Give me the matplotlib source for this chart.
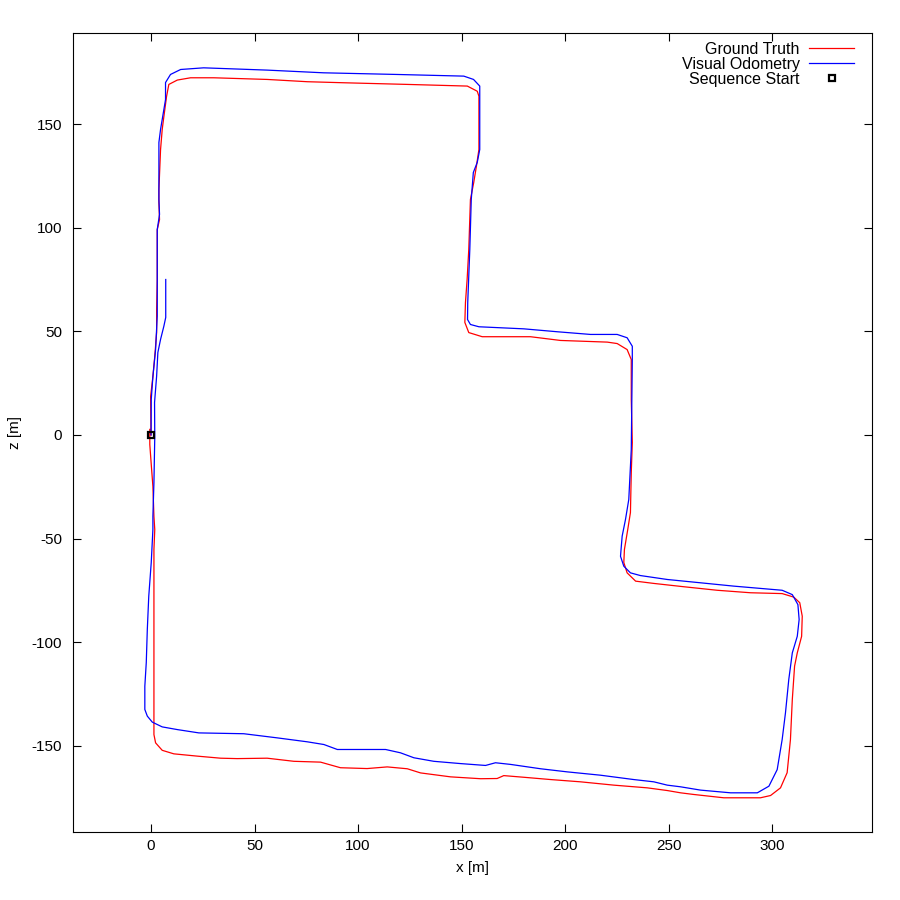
import numpy as np
import matplotlib
matplotlib.use("Agg")
import matplotlib.pyplot as plt

plt.rcParams['font.family'] = ['Liberation Sans', 'DejaVu Sans']
plt.rcParams['axes.unicode_minus'] = False

# ground truth path (x, z) in metres
gt_x = [0.0, -0.2, 0.9, 1.8, 2.7, 2.7, 3.0, 3.0, 3.0, 4.1, 3.8, 3.8, 4.6, 5.4, 6.2, 7.5, 8.6,
        12.7, 19.1, 30.3, 56.1, 75.5, 93.1, 123.8, 152.8, 157.6, 158.4, 158.4, 157.2, 155.9,
        154.3, 153.5, 152.7, 151.9, 151.6, 153.5, 160.0, 183.3, 197.8, 220.4, 225.2, 230.0,
        232.0, 232.0, 232.5, 232.0, 231.6, 230.3, 228.7, 228.4, 230.0, 234.1, 242.9, 257.4,
        273.5, 289.6, 304.9, 310.5, 313.4, 314.6, 314.3, 312.2, 310.9, 309.8, 308.9, 307.3,
        304.1, 299.3, 294.4, 276.7, 262.2, 255.8, 249.4, 239.7, 223.6, 207.5, 193.0, 180.1,
        170.4, 167.2, 159.2, 144.7, 130.2, 123.8, 114.1, 104.4, 91.5, 81.9, 69.0, 56.1, 41.6,
        33.6, 22.3, 11.0, 5.4, 2.2, 1.4, 1.4, 1.8, 1.4, 0.9, 0.1, -0.6, -0.6]
gt_z = [0.0, 18.6, 28.2, 37.9, 49.4, 60.5, 75.0, 86.1, 99.1, 103.9, 112.2, 118.4, 137.7, 147.4,
        153.6, 163.3, 169.1, 171.2, 172.3, 172.3, 171.5, 170.4, 169.9, 169.1, 168.3, 165.8,
        163.4, 137.7, 129.7, 121.8, 113.6, 89.5, 75.0, 63.9, 54.3, 49.4, 47.4, 47.4, 45.6,
        44.8, 44.1, 41.2, 36.4, 17.1, -3.6, -18.1, -37.4, -45.6, -55.2, -61.5, -66.5, -70.5,
        -71.6, -73.2, -74.9, -76.1, -76.5, -78.2, -80.9, -87.4, -97.1, -105.1, -111.5, -127.6,
        -146.9, -162.9, -170.2, -173.9, -175.0, -175.0, -173.4, -172.6, -171.5, -170.2,
        -168.9, -167.3, -166.2, -165.1, -164.3, -165.7, -165.8, -164.9, -163.0, -161.0,
        -160.1, -160.9, -160.5, -157.8, -157.4, -155.9, -156.1, -155.9, -154.9, -153.8,
        -152.1, -148.5, -144.5, -55.2, -45.6, -39.3, -24.8, -14.2, -4.6, 2.7]

# visual odometry path (x, z) in metres
vo_x = [0.0, 0.1, 0.9, 2.2, 3.0, 3.0, 3.0, 4.1, 3.8, 3.8, 4.6, 7.0, 7.0, 9.4, 14.3, 25.4, 56.1,
        83.3, 118.9, 151.1, 155.8, 158.8, 158.8, 157.6, 155.7, 154.7, 154.0, 153.0, 152.9,
        154.3, 158.4, 180.1, 196.2, 212.3, 225.2, 230.0, 232.5, 232.5, 232.0, 231.6, 230.8,
        229.2, 227.6, 226.8, 228.4, 231.6, 236.4, 249.4, 265.5, 281.5, 304.9, 309.8, 312.5,
        313.1, 312.2, 309.8, 308.1, 306.5, 304.9, 302.5, 298.5, 292.9, 280.0, 265.5, 255.8,
        249.4, 242.9, 233.2, 217.1, 201.1, 188.2, 173.7, 166.4, 161.6, 149.5, 136.6, 127.0,
        120.5, 113.3, 90.0, 83.5, 75.5, 61.0, 44.8, 23.1, 12.7, 5.4, 0.6, -1.8, -3.0, -3.0,
        -2.3, -1.8, -1.1, 0.1, 0.9, 0.9, 1.4, 1.8, 1.7, 2.7, 3.3, 4.6, 6.2, 7.1, 7.1]
vo_z = [0.0, 17.1, 28.2, 41.2, 57.3, 89.5, 99.1, 106.4, 113.6, 141.1, 147.4, 161.8, 170.0,
        173.9, 176.3, 177.1, 176.0, 174.7, 173.9, 173.1, 171.5, 168.3, 137.7, 131.5, 126.6,
        113.6, 89.5, 63.9, 55.7, 53.3, 52.2, 51.2, 49.8, 48.5, 48.5, 46.9, 42.8, 36.4, -7.0,
        -15.1, -31.1, -40.8, -48.8, -58.5, -63.3, -66.5, -67.8, -69.7, -71.3, -72.9, -74.9,
        -77.0, -81.8, -89.0, -97.1, -105.1, -117.9, -134.0, -146.9, -161.4, -169.4, -172.6,
        -172.6, -171.3, -169.7, -168.9, -167.3, -166.2, -164.1, -162.5, -161.0, -158.9,
        -158.1, -159.4, -158.5, -157.4, -155.7, -153.3, -151.7, -151.7, -149.3, -148.0,
        -146.1, -144.1, -143.7, -142.1, -140.8, -138.5, -135.6, -132.4, -121.2, -109.7,
        -93.8, -77.8, -61.5, -45.6, -39.2, -22.9, -1.2, 15.7, 28.4, 39.8, 46.1, 52.5, 56.7,
        75.0]

start_x = [0.0]
start_z = [0.0]

fig = plt.figure(figsize=(9, 9), dpi=100)
ax = fig.add_axes([73/900, 68/900, 799/900, 799/900])

ax.plot(gt_x, gt_z, color='#ff0000', lw=0.9, label='Ground Truth')
ax.plot(vo_x, vo_z, color='#0000ff', lw=0.9, label='Visual Odometry')
ax.plot(start_x, start_z, ls='none', marker='s', ms=5, mfc='none', mec='black', mew=1.6,
        label='Sequence Start')

ax.set_xlim(-37.7, 348.3)
ax.set_ylim(-191.5, 193.9)
ax.set_xticks(np.arange(0, 301, 50))
ax.set_yticks(np.arange(-150, 151, 50))
ax.tick_params(direction='in', length=6, width=0.8, top=True, right=True, labelsize=11)
ax.tick_params(axis='y', pad=8)
ax.tick_params(axis='x', pad=5)
for s in ax.spines.values():
    s.set_linewidth(0.8)

ax.set_xlabel('x [m]', fontsize=11, labelpad=6)
ax.set_ylabel('z [m]', fontsize=11, labelpad=7)

ax.legend(loc='upper right', bbox_to_anchor=(0.9855, 0.9973), frameon=False,
          markerfirst=False, fontsize=11.5, handlelength=2.8, handletextpad=0.6,
          labelspacing=0.0, borderaxespad=0)

fig.savefig('out.png', dpi=100)
